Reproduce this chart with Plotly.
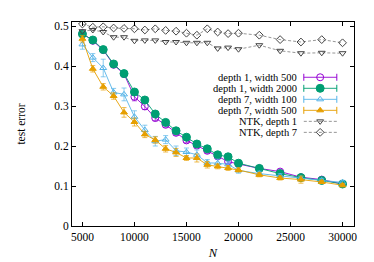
import plotly.graph_objects as go

N = [5000, 6000, 7000, 8000, 9000, 10000, 11000, 12000, 13000, 14000, 15000,
     16000, 17000, 18000, 19000, 20000, 22000, 24000, 26000, 28000, 30000]

d1_w500 = [0.482, 0.463, 0.440, 0.403, 0.380, 0.323, 0.299, 0.270, 0.253, 0.233, 0.214,
           0.201, 0.188, 0.174, 0.161, 0.155, 0.144, 0.136, 0.122, 0.116, 0.105]
d1_w500_err = [0.006, 0.005, 0.006, 0.006, 0.007, 0.010, 0.008, 0.007, 0.006, 0.006, 0.006,
               0.005, 0.006, 0.005, 0.005, 0.004, 0.004, 0.004, 0.003, 0.003, 0.003]

d1_w2000 = [0.480, 0.465, 0.441, 0.405, 0.381, 0.335, 0.315, 0.280, 0.259, 0.238, 0.222,
            0.205, 0.193, 0.178, 0.173, 0.157, 0.144, 0.131, 0.121, 0.114, 0.105]
d1_w2000_err = [0.004, 0.004, 0.004, 0.004, 0.004, 0.004, 0.004, 0.004, 0.003, 0.003, 0.003,
                0.003, 0.003, 0.003, 0.003, 0.003, 0.002, 0.002, 0.002, 0.002, 0.002]

d7_w100 = [0.454, 0.421, 0.395, 0.334, 0.329, 0.273, 0.240, 0.212, 0.216, 0.188, 0.185,
           0.178, 0.158, 0.157, 0.154, 0.139, 0.131, 0.125, 0.119, 0.114, 0.109]
d7_w100_err = [0.012, 0.010, 0.022, 0.010, 0.016, 0.015, 0.012, 0.012, 0.010, 0.012, 0.010,
               0.012, 0.008, 0.010, 0.008, 0.007, 0.006, 0.006, 0.005, 0.005, 0.005]

d7_w500 = [0.468, 0.393, 0.348, 0.325, 0.284, 0.260, 0.229, 0.215, 0.193, 0.184, 0.170,
           0.170, 0.153, 0.149, 0.145, 0.140, 0.128, 0.120, 0.116, 0.110, 0.102]
d7_w500_err = [0.008, 0.008, 0.008, 0.008, 0.012, 0.010, 0.008, 0.008, 0.008, 0.010, 0.006,
               0.010, 0.008, 0.006, 0.006, 0.005, 0.005, 0.005, 0.009, 0.004, 0.004]

ntk_d1 = [0.487, 0.490, 0.485, 0.472, 0.472, 0.463, 0.464, 0.464, 0.460, 0.460, 0.458,
          0.458, 0.458, 0.444, 0.446, 0.442, 0.452, 0.438, 0.432, 0.433, 0.432]
ntk_d7 = [0.505, 0.497, 0.498, 0.495, 0.494, 0.493, 0.490, 0.493, 0.489, 0.487, 0.482,
          0.477, 0.493, 0.485, 0.481, 0.482, 0.477, 0.466, 0.460, 0.466, 0.458]

x_ticks = [5000, 10000, 15000, 20000, 25000, 30000]
x_tick_labels = ["5000", "10000", "15000", "20000", "25000", "30000"]
y_ticks = [0, 0.1, 0.2, 0.3, 0.4, 0.5]
y_tick_labels = ["0", "0.1", "0.2", "0.3", "0.4", "0.5"]

FONT = "Liberation Serif"
PURPLE, GREEN, BLUE, ORANGE = "#9400d3", "#009e73", "#56b4e9", "#e69f00"
GRAY_MARK, GRAY_LINE = "#444444", "#8a8a8a"

series = [
    dict(name="depth 1, width 500", y=d1_w500, err=d1_w500_err, color=PURPLE, lcolor=PURPLE,
         symbol="circle-open", size=7, dash="solid"),
    dict(name="depth 1, width 2000", y=d1_w2000, err=d1_w2000_err, color=GREEN, lcolor=GREEN,
         symbol="circle", size=8, dash="solid"),
    dict(name="depth 7, width 100", y=d7_w100, err=d7_w100_err, color=BLUE, lcolor=BLUE,
         symbol="triangle-up-open", size=6, dash="solid"),
    dict(name="depth 7, width 500", y=d7_w500, err=d7_w500_err, color=ORANGE, lcolor=ORANGE,
         symbol="triangle-up", size=6, dash="solid"),
    dict(name="NTK, depth 1", y=ntk_d1, err=None, color=GRAY_MARK, lcolor=GRAY_LINE,
         symbol="triangle-down-open", size=6, dash="3px,2px"),
    dict(name="NTK, depth 7", y=ntk_d7, err=None, color=GRAY_MARK, lcolor=GRAY_LINE,
         symbol="diamond-open", size=6, dash="3px,2px"),
]

fig = go.Figure()
for s in series:
    kw = {}
    if s["err"] is not None:
        kw["error_y"] = dict(type="data", array=s["err"], color=s["color"],
                             thickness=0.7, width=2.5)
    fig.add_trace(go.Scatter(
        x=N, y=s["y"], mode="lines+markers", name=s["name"], showlegend=False,
        line=dict(color=s["lcolor"], width=0.9, dash=s["dash"]),
        marker=dict(symbol=s["symbol"], size=s["size"], color=s["color"],
                    line=dict(color=s["color"], width=1)),
        **kw))

# manual gnuplot-style key (text right-aligned, sample to its right)
key_rows = [0.729, 0.675, 0.621, 0.567, 0.513, 0.459]
key_text_x = 0.804
key_x0, key_x1, key_xm = 0.822, 0.939, 0.880
for s, ky in zip(series, key_rows):
    fig.add_annotation(x=key_text_x, y=ky, xref="paper", yref="paper",
                       text=s["name"], showarrow=False, xanchor="right",
                       yanchor="middle", font=dict(family=FONT, size=10.5, color="black"))
    fig.add_trace(go.Scatter(
        x=[key_x0, key_x1], y=[ky, ky], mode="lines", xaxis="x2", yaxis="y2",
        showlegend=False, hoverinfo="skip",
        line=dict(color=s["lcolor"], width=0.9, dash=s["dash"])))
    if s["err"] is not None:
        fig.add_trace(go.Scatter(
            x=[key_x0, key_x1], y=[ky, ky], mode="markers", xaxis="x2", yaxis="y2",
            showlegend=False, hoverinfo="skip",
            marker=dict(symbol="line-ns", size=5, line=dict(color=s["color"], width=1))))
    fig.add_trace(go.Scatter(
        x=[key_xm], y=[ky], mode="markers", xaxis="x2", yaxis="y2",
        showlegend=False, hoverinfo="skip",
        marker=dict(symbol=s["symbol"], size=s["size"], color=s["color"],
                    line=dict(color=s["color"], width=1))))

axis_common = dict(showline=True, linecolor="black", linewidth=1, mirror="allticks",
                   ticks="inside", ticklen=4, tickcolor="black", showgrid=False,
                   zeroline=False, tickfont=dict(family=FONT, size=11.5, color="black"))

fig.update_layout(
    width=374, height=262,
    margin=dict(l=61, r=28, t=13, b=40),
    plot_bgcolor="white", paper_bgcolor="white",
    font=dict(family=FONT, size=12, color="black"),
    xaxis=dict(range=[4000, 31100], tickvals=x_ticks, ticktext=x_tick_labels,
               title=dict(text="<i>N</i>", font=dict(family=FONT, size=12.5), standoff=6),
               **axis_common),
    yaxis=dict(range=[0, 0.51], tickvals=y_ticks, ticktext=y_tick_labels,
               title=dict(text="test error", font=dict(family=FONT, size=11.5), standoff=26),
               **axis_common),
    xaxis2=dict(overlaying="x", range=[0, 1], visible=False),
    yaxis2=dict(overlaying="y", range=[0, 1], visible=False),
)

fig.write_html("out.html")
